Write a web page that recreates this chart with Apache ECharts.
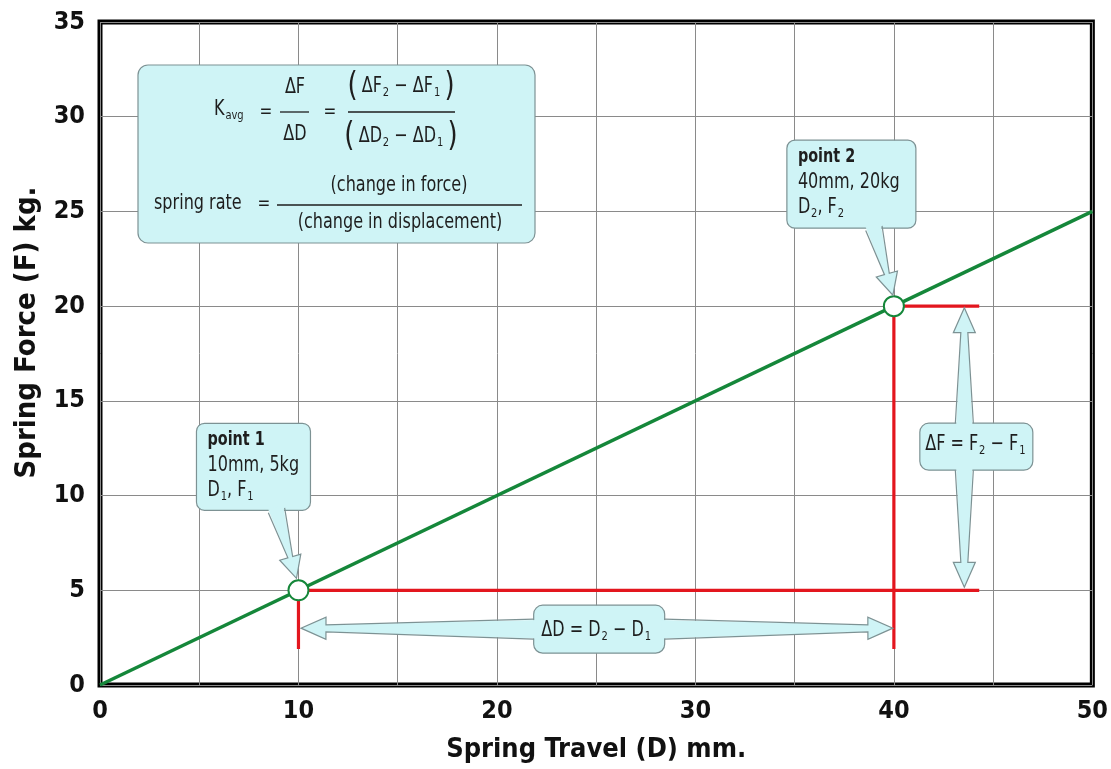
<!DOCTYPE html>
<html><head><meta charset="utf-8">
<script src="https://cdn.jsdelivr.net/npm/echarts@6/dist/echarts.min.js"></script>
<style>html,body{margin:0;padding:0;background:#fff}#c{width:1111px;height:769px}</style>
</head><body><div id="c"></div>
<script>
// ---- data ----
const travelLine = [0, 50];          // spring travel (mm) for the rate line
const forceLine = [0, 25];           // spring force (kg) for the rate line
const pointTravel = [10, 40];        // D1, D2
const pointForce = [5, 20];          // F1, F2
const guideEndTravel = 44.3;         // red guide lines extend to this travel
const dropEndForce = 1.9;            // red drop lines end at this force
const dimRowForce = 3.0;             // ΔD dimension arrow height
const dimColTravel = 43.55;          // ΔF dimension arrow position
const xTickLabels = [0, 10, 20, 30, 40, 50];
const yTickLabels = [0, 5, 10, 15, 20, 25, 30, 35];

// ---- styles ----
const NARROW = "'Liberation Sans Narrow','DejaVu Sans Condensed','Roboto Condensed',sans-serif";
const GREEN = '#15873a', RED = '#e3161e';
const BOX_FILL = '#cff4f6', BOX_STROKE = '#7d9294', TXT = '#1e1e1e';
const SQUEEZE = 0.85;

const chart = echarts.init(document.getElementById('c'), null, {renderer: 'canvas'});
chart.setOption({
  animation: false,
  backgroundColor: '#fff',
  grid: {left: 100, right: 18, top: 22, bottom: 84, show: true, borderColor: '#000', borderWidth: 5, backgroundColor: 'transparent'},
  xAxis: {
    type: 'value', min: 0, max: 50, interval: 5,
    name: 'Spring Travel (D) mm.', nameLocation: 'middle', nameGap: 51,
    nameTextStyle: {fontFamily: NARROW, fontWeight: 'bold', fontSize: 27, color: '#111'},
    axisLine: {show: false}, axisTick: {show: false},
    axisLabel: {margin: 14, fontFamily: NARROW, fontWeight: 'bold', fontSize: 25, color: '#111',
      formatter: v => xTickLabels.includes(v) ? String(v) : ''},
    splitLine: {show: true, lineStyle: {color: '#8a8a8a', width: 1}}
  },
  yAxis: {
    type: 'value', min: 0, max: 35, interval: 5,
    name: 'Spring Force (F) kg.', nameLocation: 'middle', nameGap: 58,
    nameTextStyle: {fontFamily: NARROW, fontWeight: 'bold', fontSize: 29, color: '#111', padding: [0, 0, 0, 42]},
    axisLine: {show: false}, axisTick: {show: false},
    axisLabel: {margin: 15, fontFamily: NARROW, fontWeight: 'bold', fontSize: 25, color: '#111',
      formatter: v => yTickLabels.includes(v) ? String(v) : ''},
    splitLine: {show: true, lineStyle: {color: '#8a8a8a', width: 1}}
  },
  series: [
    {type: 'line', symbol: 'none', z: 3, lineStyle: {color: RED, width: 3.2},
     data: [[pointTravel[0], dropEndForce], [pointTravel[0], pointForce[0]], [guideEndTravel, pointForce[0]]]},
    {type: 'line', symbol: 'none', z: 3, lineStyle: {color: RED, width: 3.2},
     data: [[pointTravel[1], dropEndForce], [pointTravel[1], pointForce[1]], [guideEndTravel, pointForce[1]]]},
    {type: 'line', symbol: 'none', z: 4, lineStyle: {color: GREEN, width: 3.5},
     data: travelLine.map((x, i) => [x, forceLine[i]])},
    {type: 'scatter', symbol: 'circle', symbolSize: 20, z: 5,
     itemStyle: {color: '#fff', borderColor: GREEN, borderWidth: 2, opacity: 1},
     data: pointTravel.map((x, i) => [x, pointForce[i]])}
  ]
});

// ---- annotations (anchored to data through the axes) ----
const P = (x, y) => chart.convertToPixel({gridIndex: 0}, [x, y]);
const g = [];
let Z = 100;
function rect(x0, y0, x1, y1, r) {
  g.push({type: 'rect', z: Z, shape: {x: x0, y: y0, width: x1 - x0, height: y1 - y0, r: r},
    style: {fill: BOX_FILL, stroke: BOX_STROKE, lineWidth: 1.2}});
}
function arrow(base, tip, baseHalf, neckHalf, headLen, headHalf) {
  const dx = tip[0] - base[0], dy = tip[1] - base[1], L = Math.hypot(dx, dy);
  const ux = dx / L, uy = dy / L, nx = -uy, ny = ux;
  const neck = [tip[0] - ux * headLen, tip[1] - uy * headLen];
  const pt = (c, h) => [c[0] + nx * h, c[1] + ny * h];
  const inner = [base[0] - ux * 3, base[1] - uy * 3];
  const pts = [pt(base, baseHalf), pt(neck, neckHalf), pt(neck, headHalf), tip, pt(neck, -headHalf), pt(neck, -neckHalf), pt(base, -baseHalf)];
  const fillPts = [pt(inner, baseHalf - 0.8)].concat(pts.slice(1, 6)).concat([pt(inner, -baseHalf + 0.8)]);
  g.push({type: 'polygon', z: Z + 1, shape: {points: fillPts}, style: {fill: BOX_FILL, stroke: null}});
  g.push({type: 'polyline', z: Z + 2, shape: {points: pts}, style: {fill: null, stroke: BOX_STROKE, lineWidth: 1.2}});
}
function txt(x, y, text, opt) {
  opt = opt || {};
  g.push({type: 'text', z: Z + 3, x: x, y: y, scaleX: opt.sx || SQUEEZE, style: Object.assign({
    x: 0, y: 0, text: text, fill: TXT, fontFamily: NARROW, fontSize: 21,
    align: opt.align || 'center', verticalAlign: 'middle'
  }, opt.style || {})});
}
function hline(x1, x2, y) {
  g.push({type: 'line', z: Z + 3, shape: {x1: x1, y1: y, x2: x2, y2: y}, style: {stroke: TXT, lineWidth: 1.3}});
}
const RICH = {
  s: {fontSize: 13, fontFamily: NARROW, fill: TXT, padding: [12, 0, 0, 1]},
  t: {fontSize: 21, fontFamily: NARROW, fill: TXT},
  p: {fontSize: 34, fontFamily: NARROW, fill: TXT, padding: [0, 5, 0, 5]}
};

// formula box, anchored to the top-left corner of the plot
const O = P(0, 35);
const fb = [O[0] + 38, O[1] + 43];
rect(fb[0], fb[1], O[0] + 435, O[1] + 221, 10);
txt(fb[0] + 76, fb[1] + 45, '{t|K}{s|avg}', {align: 'left', style: {rich: RICH}});
txt(fb[0] + 128, fb[1] + 47, '=', {style: {fontSize: 20}});
txt(fb[0] + 157, fb[1] + 23, 'ΔF');
hline(fb[0] + 142, fb[0] + 171, fb[1] + 47);
txt(fb[0] + 157, fb[1] + 70, 'ΔD');
txt(fb[0] + 192, fb[1] + 47, '=', {style: {fontSize: 20}});
txt(fb[0] + 263, fb[1] + 22, '{p|(}{t|ΔF}{s|2}{t| − ΔF}{s|1}{p|)}', {style: {rich: RICH}});
hline(fb[0] + 210, fb[0] + 317, fb[1] + 47);
txt(fb[0] + 263, fb[1] + 72, '{p|(}{t|ΔD}{s|2}{t| − ΔD}{s|1}{p|)}', {style: {rich: RICH}});
txt(fb[0] + 16, fb[1] + 139, 'spring rate', {align: 'left'});
txt(fb[0] + 126, fb[1] + 139, '=', {style: {fontSize: 20}});
txt(fb[0] + 261, fb[1] + 121, '(change in force)');
hline(fb[0] + 139, fb[0] + 384, fb[1] + 140);
txt(fb[0] + 262, fb[1] + 158, '(change in displacement)');

// point callouts
function callout(idx, box, base, tip, lines) {
  Z += 10;
  const c = P(pointTravel[idx], pointForce[idx]);
  rect(c[0] + box[0], c[1] + box[2], c[0] + box[1], c[1] + box[3], 8);
  arrow([c[0] + base[0], c[1] + base[1]], [c[0] + tip[0], c[1] + tip[1]], 8.5, 2.5, 22, 11);
  txt(c[0] + box[0] + 11, c[1] + box[2] + 17, lines[0], {align: 'left', sx: 0.8, style: {fontWeight: 'bold', fontSize: 20}});
  txt(c[0] + box[0] + 11, c[1] + box[2] + 42, lines[1], {align: 'left'});
  txt(c[0] + box[0] + 11, c[1] + box[2] + 67, lines[2], {align: 'left', style: {rich: RICH}});
}
callout(0, [-102, 12, -167, -80], [-22, -80], [-2, -12], ['point 1', '10mm, 5kg', '{t|D}{s|1}{t|, F}{s|1}']);
callout(1, [-107, 22, -166, -78], [-20, -78], [-1, -11], ['point 2', '40mm, 20kg', '{t|D}{s|2}{t|, F}{s|2}']);

// ΔD dimension arrow
Z += 10;
const d1 = P(pointTravel[0], dimRowForce), d2 = P(pointTravel[1], dimRowForce);
const dc = [(d1[0] + d2[0]) / 2 + 3, d1[1] + 1];
rect(dc[0] - 65.5, dc[1] - 24, dc[0] + 65.5, dc[1] + 24, 9);
arrow([dc[0] - 65.5, dc[1]], [d1[0] + 2.5, d1[1]], 10, 3.5, 25, 11);
arrow([dc[0] + 65.5, dc[1]], [d2[0] - 1, d2[1]], 10, 3.5, 25, 11);
txt(dc[0] - 3, dc[1] + 1, '{t|ΔD = D}{s|2}{t| − D}{s|1}', {style: {rich: RICH}});

// ΔF dimension arrow
Z += 10;
const f1 = P(dimColTravel, pointForce[0]), f2 = P(dimColTravel, pointForce[1]);
const fc = [f1[0] + 12, (f1[1] + f2[1]) / 2 - 1.5];
rect(fc[0] - 56.5, fc[1] - 23.5, fc[0] + 56.5, fc[1] + 23.5, 9);
arrow([f1[0], fc[1] - 23.5], [f2[0], f2[1] + 1.5], 9, 3.5, 25, 11);
arrow([f1[0], fc[1] + 23.5], [f1[0], f1[1] - 3], 9, 3.5, 25, 11);
txt(fc[0] - 1, fc[1] - 2, '{t|ΔF = F}{s|2}{t| − F}{s|1}', {style: {rich: RICH}});

chart.setOption({graphic: {elements: g}});
</script></body></html>
